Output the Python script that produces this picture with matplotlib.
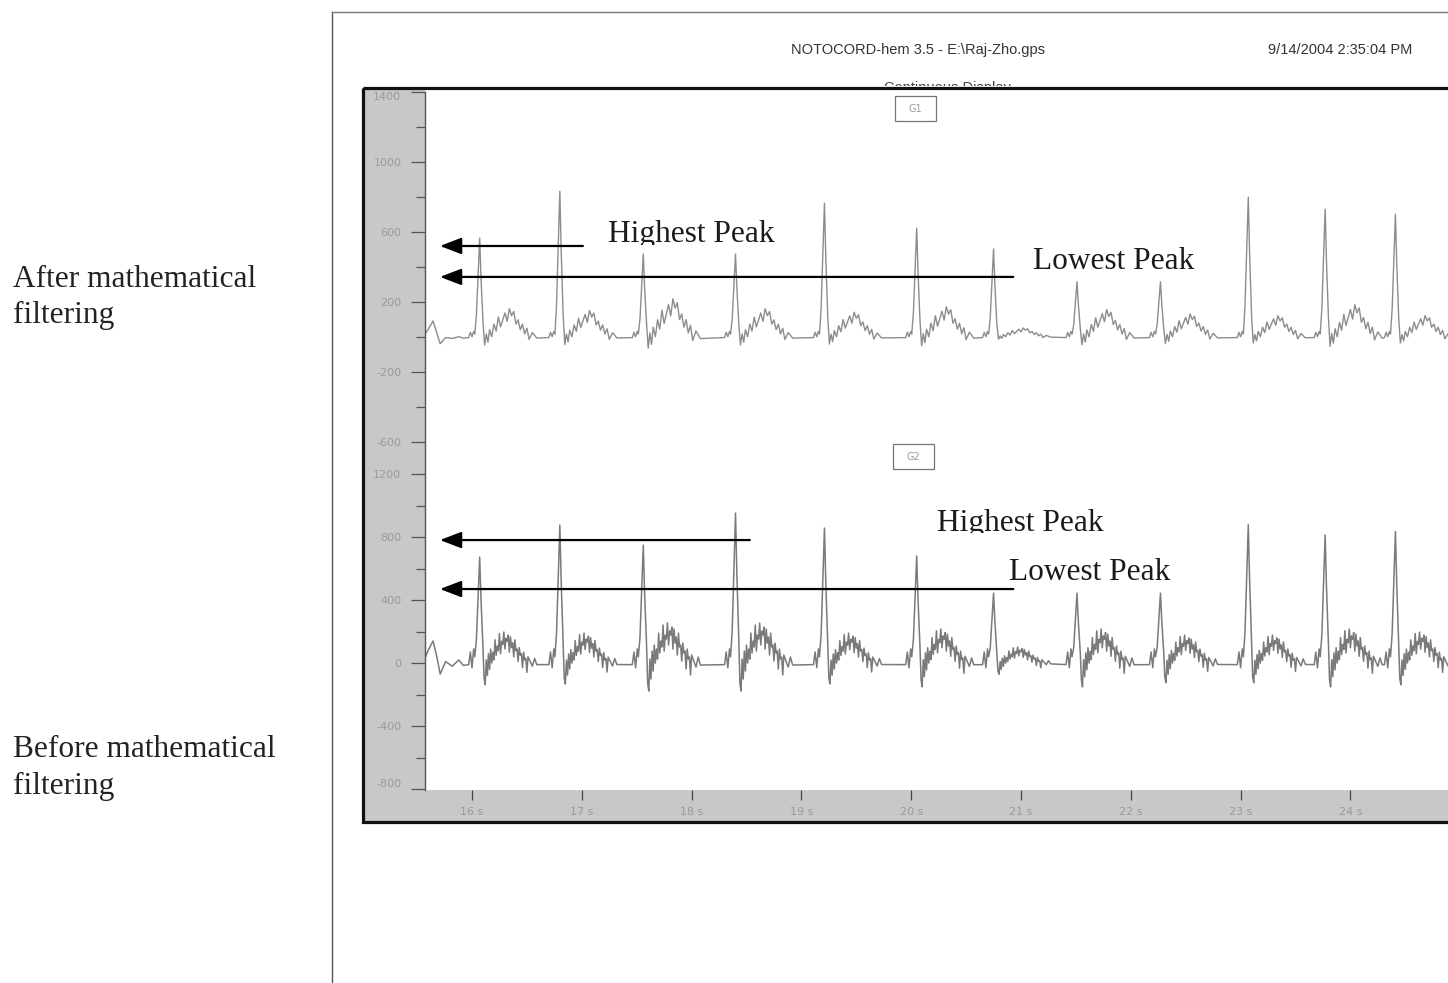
import numpy as np
import matplotlib
matplotlib.use("Agg")
import matplotlib.pyplot as plt
from matplotlib.patches import Rectangle
from matplotlib.transforms import Bbox

W, H = 1448, 983

# R-peak times of the beats on screen (s)
beat_t = [16.07, 16.80, 17.56, 18.40, 19.21, 20.05, 20.75, 21.51, 22.27, 23.07, 23.77, 24.41]

# G1 = filtered pressure, G2 = raw signal: R-peak and T-wave height per beat
g1_r = [564, 832, 473, 473, 764, 621, 502, 314, 314, 798, 730, 701]
g1_hump = [160, 150, 217, 160, 140, 172, 50, 155, 130, 120, 183, 120]
g2_r = [673, 876, 749, 952, 857, 679, 444, 444, 444, 879, 813, 835]
g2_hump = [197, 190, 254, 254, 190, 216, 102, 216, 178, 178, 216, 197]

# trace before the first beat
g1_lead_t = [15.57, 15.60, 15.645, 15.68, 15.71, 15.76, 15.82, 15.88, 15.92]
g1_lead_v = [15, 40, 90, 20, -40, -5, -10, 0, -8]
g2_lead_t = [15.57, 15.60, 15.645, 15.68, 15.71, 15.76, 15.82, 15.88, 15.92]
g2_lead_v = [30, 80, 140, 40, -70, 10, -20, 20, -15]

# shape of one beat: offsets from the R peak (s)
pre_dt = [-0.10, -0.085, -0.07, -0.055, -0.045]
g1_pre_v = [-5, 25, 0, 30, 15]
g2_pre_v = [-10, 70, -30, 90, 40]
qrs_dt = [-0.03, -0.012, 0.0, 0.012, 0.03]
qrs_frac = [0.22, 0.7, 1.0, 0.6, 0.15]

g1_post_dt = [0.045, 0.06, 0.075, 0.09, 0.11, 0.13, 0.15, 0.17, 0.19, 0.21, 0.23, 0.25,
              0.27, 0.29, 0.31, 0.33, 0.35, 0.37, 0.39, 0.41, 0.43, 0.45, 0.48, 0.52]
g1_post_frac = [-0.3, 0.1, -0.2, 0.25, 0.0, 0.45, 0.2, 0.7, 0.35, 0.6, 0.85, 0.55,
                1.0, 0.75, 0.9, 0.45, 0.6, 0.25, 0.45, 0.1, 0.3, -0.1, 0.15, -0.05]

g2_post_dt = [0.04, 0.05, 0.06, 0.07, 0.08, 0.09, 0.10, 0.11, 0.12, 0.13, 0.14, 0.15,
              0.16, 0.17, 0.18, 0.19, 0.20, 0.21, 0.22, 0.23, 0.24, 0.25, 0.26, 0.27,
              0.28, 0.29, 0.30, 0.31, 0.32, 0.33, 0.34, 0.35, 0.36, 0.37, 0.38, 0.39,
              0.40, 0.41, 0.42, 0.43, 0.44, 0.46, 0.48, 0.50, 0.52]
g2_post_frac = [-0.5, -0.7, 0.1, -0.4, 0.3, -0.2, 0.45, 0.0, 0.35, 0.1, 0.75, 0.25,
                0.55, 0.4, 0.95, 0.3, 0.7, 0.6, 1.0, 0.45, 0.8, 0.7, 0.9, 0.35,
                0.85, 0.5, 0.65, 0.2, 0.75, 0.4, 0.45, 0.05, 0.5, 0.25, 0.3, -0.15,
                0.35, 0.1, 0.15, -0.3, 0.2, 0.05, -0.1, 0.15, -0.05]

# marker levels of the "Highest / Lowest Peak" arrows
g1_arrow_levels = [519, 342]
g2_arrow_levels = [781, 470]

g1_major = [-600, -200, 200, 600, 1000, 1400]
g2_major = [-800, -400, 0, 400, 800, 1200]
sec_ticks = [16, 17, 18, 19, 20, 21, 22, 23, 24]


def build_trace(lead_t, lead_v, r_vals, humps, pre_v, post_dt, post_frac):
    ts, vs = list(lead_t), list(lead_v)
    for t0, r, hump in zip(beat_t, r_vals, humps):
        ts += [t0 + d for d in pre_dt]
        vs += pre_v
        ts += [t0 + d for d in qrs_dt]
        vs += [r * f for f in qrs_frac]
        ts += [t0 + d for d in post_dt]
        vs += [hump * f for f in post_frac]
    return np.array(ts), np.array(vs)


def px(x0, y0, x1, y1):
    # figure-fraction rect from pixel box (top-left origin)
    return [x0 / W, 1 - y1 / H, (x1 - x0) / W, (y1 - y0) / H]


fig = plt.figure(figsize=(W / 100, H / 100), dpi=100)
fig.patch.set_facecolor("white")

# page background: box lines, grey axis strips, side labels
bg = fig.add_axes([0, 0, 1, 1], zorder=0)
bg.set_xlim(0, W)
bg.set_ylim(H, 0)
bg.axis("off")
bg.plot([332, 332], [12, H], color="#555555", lw=1.0)
bg.plot([332, W], [12, 12], color="#777777", lw=1.0)
bg.add_patch(Rectangle((364, 89), 61, 733, facecolor="#c8c8c8", edgecolor="none"))
bg.add_patch(Rectangle((364, 790), W, 32, facecolor="#c8c8c8", edgecolor="none"))

serif = ["Liberation Serif", "DejaVu Serif"]
sans = ["Liberation Sans", "DejaVu Sans"]
for y, s in [(287, "After mathematical"), (323, "filtering"),
             (757, "Before mathematical"), (794, "filtering")]:
    bg.text(13, y, s, fontsize=22.6, family=serif, color="#222222", va="baseline")

t_lo = 16 - 47 / 109.8
t_hi = 16 + 976 / 109.8

ax1 = fig.add_axes(px(425, 92, W, 458), zorder=1)
ax2 = fig.add_axes(px(425, 458, W, 790), zorder=1)

t1, v1 = build_trace(g1_lead_t, g1_lead_v, g1_r, g1_hump, g1_pre_v, g1_post_dt, g1_post_frac)
t2, v2 = build_trace(g2_lead_t, g2_lead_v, g2_r, g2_hump, g2_pre_v, g2_post_dt, g2_post_frac)
ax1.plot(t1, v1, color="#8c8c8c", lw=1.0)
ax2.plot(t2, v2, color="#7a7a7a", lw=1.1)

ax1.set_ylim(-694, 1390)
ax2.set_ylim(-806, 1302)

for ax, major in [(ax1, g1_major), (ax2, g2_major)]:
    ax.set_facecolor("white")
    ax.set_xlim(t_lo, t_hi)
    for side in ["top", "right", "bottom"]:
        ax.spines[side].set_visible(False)
    ax.spines["left"].set_color("#555555")
    ax.spines["left"].set_linewidth(1.0)
    ax.set_yticks(major)
    ax.set_yticks([m + 200 for m in major[:-1]], minor=True)
    ax.set_yticklabels([str(m) for m in major])
    ax.tick_params(axis="y", which="major", length=10, width=0.9, color="#555555",
                   labelsize=8, labelcolor="#9a9a9a", pad=7)
    ax.tick_params(axis="y", which="minor", length=6.5, width=0.9, color="#555555")

ax1.tick_params(axis="x", bottom=False, labelbottom=False)
ax1.get_yticklabels()[-1].set_va("top")
ax2.get_yticklabels()[0].set_va("bottom")

ax2.set_xticks(sec_ticks)
ax2.set_xticklabels([f"{s} s" for s in sec_ticks])
ax2.tick_params(axis="x", length=7, width=0.9, color="#444444",
                labelsize=8, labelcolor="#9a9a9a", pad=5)

arrow = dict(arrowstyle="-|>,head_length=0.65,head_width=0.25", mutation_scale=20,
             lw=1.6, color="black", shrinkA=0, shrinkB=0)
tip = 16 + (440 - 472) / 109.8
for ax, levels, tails in [(ax1, g1_arrow_levels, [17.01, 20.93]),
                          (ax2, g2_arrow_levels, [18.53, 20.93])]:
    for lev, tail in zip(levels, tails):
        ax.annotate("", xy=(tip, lev), xytext=(tail, lev), arrowprops=arrow)

# frame, header and peak captions on top
ov = fig.add_axes([0, 0, 1, 1], zorder=3)
ov.set_xlim(0, W)
ov.set_ylim(H, 0)
ov.axis("off")
ov.patch.set_alpha(0)
ov.add_patch(Rectangle((363, 88), 1200, 734, fill=False, edgecolor="#111111", lw=2.3))

ov.text(918, 50, "NOTOCORD-hem 3.5 - E:\\Raj-Zho.gps", ha="center", va="center",
        fontsize=10.5, family=sans, color="#333333")
ov.text(1340, 50, "9/14/2004 2:35:04 PM", ha="center", va="center",
        fontsize=10.5, family=sans, color="#333333")
cd = ov.text(947, 92, "Continuous Display", ha="center", va="baseline",
             fontsize=10.5, family=sans, color="#444444", clip_on=True)
cd.set_clip_box(Bbox.from_extents(0, H - 86, W, H))

for (x0, y0), lab in [((895, 96), "G1"), ((893, 444), "G2")]:
    ov.add_patch(Rectangle((x0, y0), 41, 25, facecolor="white", edgecolor="#777777", lw=0.9))
    ov.text(x0 + 20.5, y0 + 12.5, lab, ha="center", va="center", fontsize=7, color="#999999")

for x, y, s, cut in [(608, 242, "Highest Peak", 245), (1033, 269, "Lowest Peak", None),
                     (937, 531, "Highest Peak", 533), (1009, 580, "Lowest Peak", None)]:
    t = ov.text(x, y, s, fontsize=22.6, family=serif, color="#1a1a1a", va="baseline",
                clip_on=cut is not None)
    if cut is not None:
        t.set_clip_box(Bbox.from_extents(0, H - cut, W, H))

fig.savefig("out.png", dpi=100)
